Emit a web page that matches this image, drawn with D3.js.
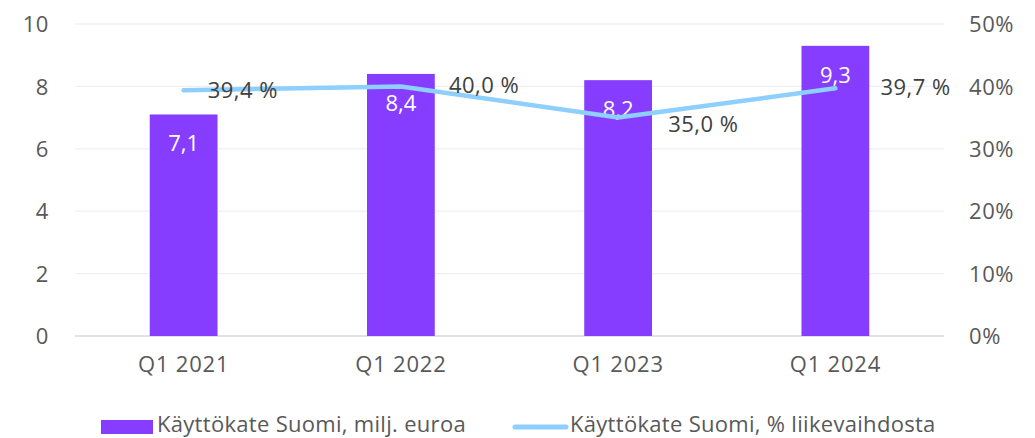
<!DOCTYPE html>
<html><head><meta charset="utf-8">
<script src="https://cdn.jsdelivr.net/npm/d3@7"></script>
<style>
html,body{margin:0;padding:0;background:#fff;}
text{font-family:"Open Sans",sans-serif;}
</style></head>
<body>
<svg id="c" width="1035" height="438"></svg>
<script>
const categories = ["Q1 2021","Q1 2022","Q1 2023","Q1 2024"];
const ebitda = [7.1, 8.4, 8.2, 9.3];
const ebitdaPct = [39.4, 40.0, 35.0, 39.7];
const leftTicks = [0,2,4,6,8,10];
const rightTicks = [0,10,20,30,40,50];
const seriesNames = ["Käyttökate Suomi, milj. euroa","Käyttökate Suomi, % liikevaihdosta"];

// layout
const W=1035,H=438, L=75, R=944, T=24, B=336, FS=22;
const pctLabelOffset = [[24,8],[48,7],[50,14],[45,7]];
const fmt = v => v.toFixed(1).replace(".", ",");

const svg = d3.select("#c");
const x = d3.scaleBand().domain(categories).range([L,R]).paddingInner(0.688).paddingOuter(0.344);
const y = d3.scaleLinear().domain([0,10]).range([B,T]);
const y2 = d3.scaleLinear().domain([0,50]).range([B,T]);

// gridlines
svg.append("g").selectAll("line").data(leftTicks).join("line")
  .attr("x1",L).attr("x2",R).attr("y1",d=>y(d)).attr("y2",d=>y(d))
  .attr("stroke",d=>d===0?"#d9d9d9":"#efefef").attr("stroke-width",1.3);

// left axis
const ax = svg.append("g").attr("transform",`translate(${L},0)`)
  .call(d3.axisLeft(y).tickValues(leftTicks).tickSize(0).tickPadding(26).tickFormat(d=>d));
ax.select(".domain").remove();
ax.selectAll("text").attr("font-size",FS).attr("fill","#595959").attr("font-family","Open Sans").attr("dy","0.35em").attr("letter-spacing",0.6);

// right axis
const ax2 = svg.append("g").attr("transform",`translate(${R},0)`)
  .call(d3.axisRight(y2).tickValues(rightTicks).tickSize(0).tickPadding(25).tickFormat(d=>d+"%"));
ax2.select(".domain").remove();
ax2.selectAll("text").attr("font-size",FS).attr("fill","#595959").attr("font-family","Open Sans").attr("dy","0.35em").attr("letter-spacing",0.6);

// bottom axis
const ax3 = svg.append("g").attr("transform",`translate(0,${B})`)
  .call(d3.axisBottom(x).tickSize(0).tickPadding(20));
ax3.select(".domain").remove();
ax3.selectAll("text").attr("font-size",FS).attr("fill","#595959").attr("font-family","Open Sans").attr("letter-spacing",0.8);

// bars
svg.append("g").selectAll("rect").data(ebitda).join("rect")
  .attr("x",(d,i)=>x(categories[i])).attr("width",x.bandwidth())
  .attr("y",d=>y(d)).attr("height",d=>B-y(d)).attr("fill","#873dff");

// bar labels
svg.append("g").selectAll("text").data(ebitda).join("text")
  .attr("x",(d,i)=>x(categories[i])+x.bandwidth()/2).attr("y",d=>y(d)+37)
  .attr("text-anchor","middle").attr("font-size",FS).attr("fill","#fff").text(fmt);

// line
const cx = i => x(categories[i])+x.bandwidth()/2;
svg.append("path").datum(ebitdaPct)
  .attr("d", d3.line().x((d,i)=>cx(i)).y(d=>y2(d)))
  .attr("fill","none").attr("stroke","#8dcfff").attr("stroke-width",4.5)
  .attr("stroke-linecap","round").attr("stroke-linejoin","round");

// line labels
svg.append("g").selectAll("text").data(ebitdaPct).join("text")
  .attr("x",(d,i)=>cx(i)+pctLabelOffset[i][0]).attr("y",(d,i)=>y2(d)+pctLabelOffset[i][1])
  .attr("font-size",FS).attr("fill","#404040").attr("letter-spacing",0.5).text(d=>fmt(d)+" %");

// legend
const lg = svg.append("g");
lg.append("rect").attr("x",101).attr("y",420).attr("width",52).attr("height",14).attr("fill","#873dff");
lg.append("text").attr("x",157).attr("y",432).attr("font-size",FS).attr("fill","#595959").attr("letter-spacing",0.3).text(seriesNames[0]);
lg.append("line").attr("x1",515).attr("x2",566).attr("y1",427).attr("y2",427)
  .attr("stroke","#8dcfff").attr("stroke-width",5).attr("stroke-linecap","round");
lg.append("text").attr("x",570).attr("y",432).attr("font-size",FS).attr("fill","#595959").attr("letter-spacing",0.3).text(seriesNames[1]);
</script>
</body></html>
